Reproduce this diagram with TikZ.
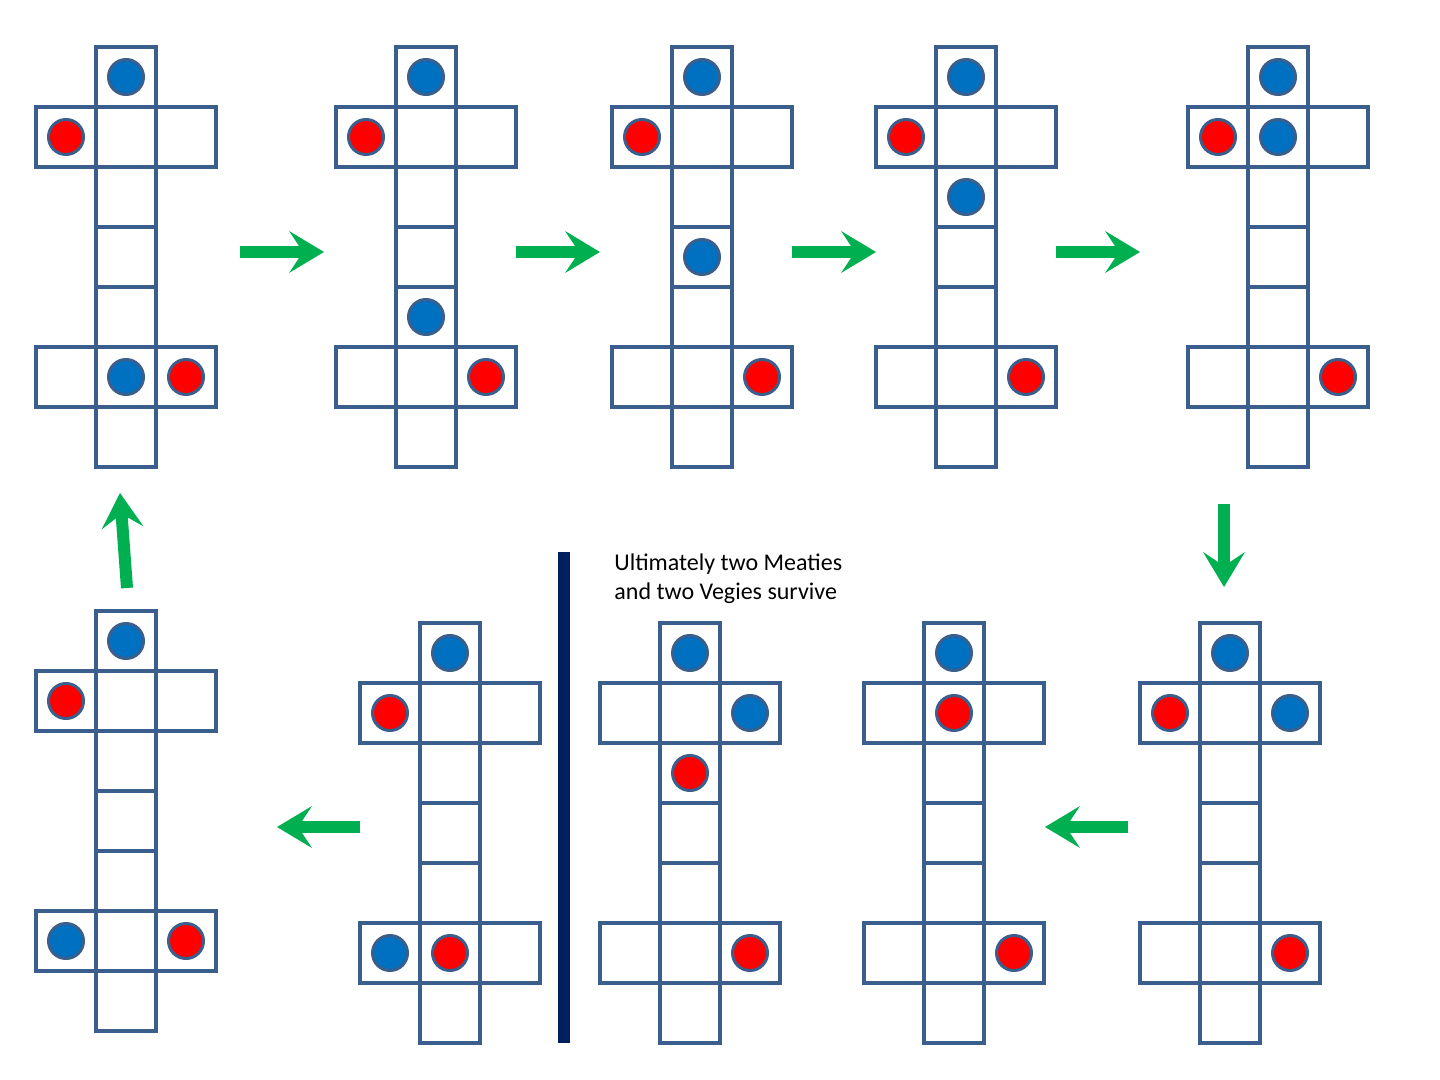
\documentclass[tikz,border=0pt]{standalone}
\usepackage{fontspec}
\setmainfont{Carlito}
\usetikzlibrary{arrows.meta}
\definecolor{gridc}{HTML}{3A5F8C}
\definecolor{ballb}{HTML}{0070C0}
\definecolor{ballr}{HTML}{FF0000}
\definecolor{garrow}{HTML}{00B050}
\definecolor{navy}{HTML}{002060}
\tikzset{
  cell/.style={draw=gridc, line width=2pt},
  ballbase/.style={circle, draw=gridc, line width=1.5pt, minimum size=17.5pt, inner sep=0pt},
  bball/.style={ballbase, fill=ballb},
  rball/.style={ballbase, fill=ballr},
  flow/.style={draw=garrow, line width=6pt, -{Stealth[length=17.5pt, width=21pt, inset=7pt, line width=0pt]}},
  txt/.style={anchor=base west, inner sep=0pt, font=\fontsize{12}{14.5}\selectfont},
  board/.pic={
    \foreach \r in {0,...,6} {\draw[cell] (-30,60*\r) rectangle (30,60*\r+60);}
    \foreach \r in {1,5} {
      \draw[cell] (-90,60*\r) rectangle (-30,60*\r+60);
      \draw[cell] (30,60*\r) rectangle (90,60*\r+60);}
  }
}
\begin{document}
\begin{tikzpicture}[x=0.5pt, y=-0.5pt]
\fill[white] (0,0) rectangle (1440,1080);
\useasboundingbox (0,0) rectangle (1440,1080);

% ---- top row ----
\begin{scope}[shift={(126,47)}]
  \pic (B1) {board};
  \node[bball] (b1a) at (0,30) {};
  \node[rball] (b1b) at (-60,90) {};
  \node[bball] (b1c) at (0,330) {};
  \node[rball] (b1d) at (60,330) {};
\end{scope}
\begin{scope}[shift={(426,47)}]
  \pic (B2) {board};
  \node[bball] (b2a) at (0,30) {};
  \node[rball] (b2b) at (-60,90) {};
  \node[bball] (b2c) at (0,270) {};
  \node[rball] (b2d) at (60,330) {};
\end{scope}
\begin{scope}[shift={(702,47)}]
  \pic (B3) {board};
  \node[bball] (b3a) at (0,30) {};
  \node[rball] (b3b) at (-60,90) {};
  \node[bball] (b3c) at (0,210) {};
  \node[rball] (b3d) at (60,330) {};
\end{scope}
\begin{scope}[shift={(966,47)}]
  \pic (B4) {board};
  \node[bball] (b4a) at (0,30) {};
  \node[rball] (b4b) at (-60,90) {};
  \node[bball] (b4c) at (0,150) {};
  \node[rball] (b4d) at (60,330) {};
\end{scope}
\begin{scope}[shift={(1278,47)}]
  \pic (B5) {board};
  \node[bball] (b5a) at (0,30) {};
  \node[rball] (b5b) at (-60,90) {};
  \node[bball] (b5c) at (0,90) {};
  \node[rball] (b5d) at (60,330) {};
\end{scope}

% ---- bottom row ----
\begin{scope}[shift={(1230,623)}]
  \pic (B6) {board};
  \node[bball] (b6a) at (0,30) {};
  \node[rball] (b6b) at (-60,90) {};
  \node[bball] (b6c) at (60,90) {};
  \node[rball] (b6d) at (60,330) {};
\end{scope}
\begin{scope}[shift={(954,623)}]
  \pic (B7) {board};
  \node[bball] (b7a) at (0,30) {};
  \node[rball] (b7b) at (0,90) {};
  \node[rball] (b7d) at (60,330) {};
\end{scope}
\begin{scope}[shift={(690,623)}]
  \pic (B8) {board};
  \node[bball] (b8a) at (0,30) {};
  \node[bball] (b8b) at (60,90) {};
  \node[rball] (b8c) at (0,150) {};
  \node[rball] (b8d) at (60,330) {};
\end{scope}
\begin{scope}[shift={(450,623)}]
  \pic (B9) {board};
  \node[bball] (b9a) at (0,30) {};
  \node[rball] (b9b) at (-60,90) {};
  \node[bball] (b9c) at (-60,330) {};
  \node[rball] (b9d) at (0,330) {};
\end{scope}
\begin{scope}[shift={(126,611)}]
  \pic (B10) {board};
  \node[bball] (b10a) at (0,30) {};
  \node[rball] (b10b) at (-60,90) {};
  \node[bball] (b10c) at (-60,330) {};
  \node[rball] (b10d) at (60,330) {};
\end{scope}

% ---- divider and caption ----
\fill[navy] (558,552) rectangle (570,1043);
\node[txt] (t1) at (614,570) {Ultimately two Meaties};
\node[txt] (t2) at (614,599) {and two Vegies survive};

% ---- arrows ----
\coordinate (a1s) at (240,252);  \coordinate (a1e) at (324,252);
\coordinate (a2s) at (516,252);  \coordinate (a2e) at (600,252);
\coordinate (a3s) at (792,252);  \coordinate (a3e) at (876,252);
\coordinate (a4s) at (1056,252); \coordinate (a4e) at (1140,252);
\coordinate (a5s) at (1224,504); \coordinate (a5e) at (1224,587);
\coordinate (a6s) at (1128,827); \coordinate (a6e) at (1045,827);
\coordinate (a7s) at (360,827);  \coordinate (a7e) at (277,827);
\coordinate (a8s) at (127,588);  \coordinate (a8e) at (120,493);
\foreach \i in {1,...,8} {\draw[flow] (a\i s) -- (a\i e);}
\end{tikzpicture}
\end{document}
